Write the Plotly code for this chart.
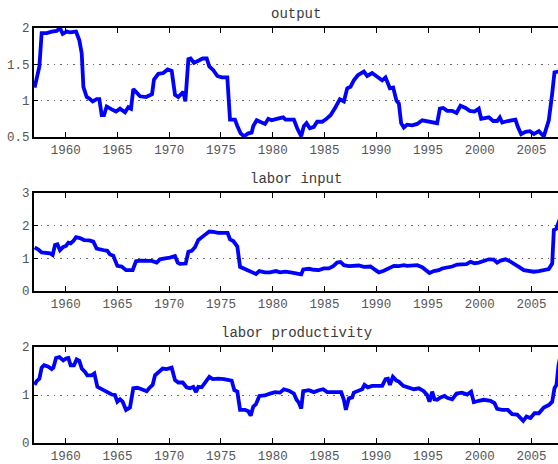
import plotly.graph_objects as go

# ---------------- data ----------------
out_x = [1957.00, 1957.46, 1957.68, 1958.17, 1958.65, 1959.13, 1959.45, 1959.71, 1960.10, 1960.42,
         1961.00, 1961.32, 1961.55, 1961.71, 1962.03, 1962.29, 1962.61, 1962.99, 1963.25, 1963.48,
         1963.70, 1963.96, 1964.44, 1964.86, 1965.25, 1965.73, 1966.05, 1966.31, 1966.53, 1966.86,
         1967.18, 1967.76, 1968.14, 1968.34, 1968.53, 1968.95, 1969.43, 1969.85, 1970.24, 1970.56,
         1970.88, 1971.20, 1971.36, 1971.56, 1971.85, 1972.07, 1972.39, 1972.81, 1973.23, 1973.62,
         1973.87, 1974.26, 1974.65, 1975.06, 1975.61, 1975.87, 1976.35, 1976.61, 1976.90, 1977.22,
         1977.64, 1977.96, 1978.12, 1978.45, 1978.93, 1979.25, 1979.57, 1979.89, 1980.38, 1981.01,
         1981.23, 1982.04, 1982.36, 1982.75, 1983.00, 1983.26, 1983.58, 1983.97, 1984.29, 1984.77,
         1985.10, 1985.58, 1986.06, 1986.48, 1986.87, 1987.19, 1987.51, 1987.83, 1988.22, 1988.54,
         1988.80, 1989.12, 1989.60, 1990.09, 1990.57, 1990.89, 1991.31, 1991.63, 1991.95, 1992.18,
         1992.40, 1992.66, 1992.98, 1993.47, 1993.95, 1994.43, 1994.91, 1995.40, 1995.88, 1996.14,
         1996.46, 1996.85, 1997.33, 1997.75, 1998.13, 1998.62, 1999.03, 1999.49, 1999.90, 2000.13,
         2000.87, 2001.29, 2001.67, 2001.93, 2002.16, 2002.70, 2003.44, 2003.67, 2003.99, 2004.41,
         2004.83, 2005.22, 2005.70, 2006.18, 2006.66, 2006.99, 2007.21, 2007.60, 2007.90]
out_y = [1.18, 1.47, 1.93, 1.93, 1.95, 1.96, 2.00, 1.92, 1.95, 1.94,
         1.95, 1.83, 1.65, 1.19, 1.05, 1.03, 0.99, 1.02, 1.02, 0.80,
         0.80, 0.92, 0.88, 0.85, 0.89, 0.84, 0.91, 0.89, 1.16, 1.11,
         1.06, 1.05, 1.08, 1.09, 1.29, 1.37, 1.38, 1.43, 1.41, 1.08,
         1.05, 1.09, 1.12, 0.99, 1.57, 1.58, 1.52, 1.55, 1.58, 1.58,
         1.47, 1.42, 1.34, 1.32, 1.32, 0.74, 0.74, 0.64, 0.55, 0.51,
         0.55, 0.56, 0.65, 0.73, 0.70, 0.68, 0.75, 0.73, 0.75, 0.77,
         0.74, 0.74, 0.62, 0.51, 0.65, 0.69, 0.62, 0.64, 0.71, 0.71,
         0.74, 0.80, 0.91, 1.02, 0.99, 1.17, 1.19, 1.28, 1.35, 1.38,
         1.40, 1.34, 1.38, 1.33, 1.28, 1.32, 1.17, 1.18, 1.00, 0.96,
         0.69, 0.63, 0.67, 0.66, 0.68, 0.73, 0.72, 0.70, 0.69, 0.89,
         0.90, 0.86, 0.86, 0.83, 0.93, 0.90, 0.86, 0.85, 0.89, 0.75,
         0.77, 0.72, 0.72, 0.77, 0.70, 0.72, 0.74, 0.64, 0.54, 0.57,
         0.58, 0.54, 0.58, 0.51, 0.73, 1.10, 1.39, 1.40, 1.41]

lab_x = [1957.00, 1957.36, 1957.68, 1958.17, 1958.49, 1958.74, 1958.97, 1959.20, 1959.45, 1959.77,
         1960.03, 1960.26, 1960.48, 1960.74, 1961.00, 1961.38, 1961.77, 1962.29, 1962.67, 1962.99,
         1963.48, 1963.80, 1964.02, 1964.28, 1964.60, 1964.99, 1965.41, 1965.83, 1966.47, 1966.79,
         1967.18, 1967.82, 1968.31, 1968.79, 1969.11, 1969.59, 1970.08, 1970.56, 1970.82, 1971.04,
         1971.59, 1971.85, 1972.17, 1972.49, 1972.81, 1973.29, 1973.87, 1974.26, 1974.74, 1975.64,
         1975.87, 1976.19, 1976.58, 1976.84, 1977.32, 1977.64, 1978.06, 1978.38, 1978.70, 1979.25,
         1979.73, 1980.31, 1980.70, 1981.23, 1981.72, 1982.20, 1982.75, 1982.94, 1983.49, 1983.97,
         1984.45, 1984.94, 1985.42, 1985.84, 1986.22, 1986.55, 1986.87, 1987.35, 1987.83, 1988.32,
         1988.80, 1989.44, 1989.93, 1990.25, 1990.73, 1991.21, 1991.70, 1992.18, 1992.66, 1992.98,
         1993.47, 1993.95, 1994.43, 1994.75, 1995.14, 1995.56, 1996.04, 1996.36, 1996.85, 1997.33,
         1997.81, 1998.29, 1998.71, 1999.10, 1999.49, 1999.90, 2000.39, 2000.87, 2001.35, 2001.67,
         2002.00, 2002.48, 2002.80, 2003.28, 2003.77, 2004.25, 2004.73, 2005.22, 2005.70, 2006.18,
         2006.66, 2006.99, 2007.15, 2007.37, 2007.60, 2007.90]
lab_y = [1.33, 1.27, 1.18, 1.17, 1.15, 1.10, 1.41, 1.43, 1.25, 1.35,
         1.38, 1.48, 1.46, 1.53, 1.65, 1.62, 1.56, 1.55, 1.51, 1.30,
         1.25, 1.24, 1.23, 1.12, 1.08, 0.77, 0.75, 0.64, 0.64, 0.91,
         0.93, 0.91, 0.92, 0.87, 0.97, 1.00, 1.02, 1.07, 0.87, 0.83,
         0.84, 1.20, 1.23, 1.34, 1.56, 1.68, 1.82, 1.81, 1.78, 1.78,
         1.58, 1.53, 1.36, 0.74, 0.67, 0.63, 0.54, 0.52, 0.61, 0.57,
         0.57, 0.61, 0.57, 0.59, 0.57, 0.54, 0.51, 0.66, 0.68, 0.65,
         0.64, 0.69, 0.69, 0.76, 0.87, 0.89, 0.79, 0.76, 0.77, 0.78,
         0.74, 0.75, 0.64, 0.57, 0.62, 0.69, 0.77, 0.76, 0.79, 0.77,
         0.79, 0.79, 0.73, 0.66, 0.55, 0.61, 0.64, 0.69, 0.71, 0.75,
         0.81, 0.83, 0.82, 0.89, 0.85, 0.87, 0.91, 0.97, 0.96, 0.87,
         0.93, 0.97, 0.93, 0.82, 0.74, 0.64, 0.61, 0.59, 0.61, 0.63,
         0.67, 0.84, 1.87, 1.90, 2.13, 2.35]

prod_x = [1957.00, 1957.20, 1957.46, 1957.68, 1957.91, 1958.33, 1958.65, 1958.81, 1959.07, 1959.39,
          1959.77, 1960.03, 1960.26, 1960.48, 1960.80, 1961.06, 1961.32, 1961.55, 1961.87, 1962.09,
          1962.51, 1962.77, 1963.06, 1963.48, 1963.96, 1964.44, 1964.76, 1964.99, 1965.25, 1965.50,
          1965.83, 1966.21, 1966.53, 1966.92, 1967.34, 1967.82, 1968.14, 1968.40, 1968.63, 1968.95,
          1969.37, 1969.75, 1970.24, 1970.56, 1970.88, 1971.30, 1971.68, 1972.01, 1972.33, 1972.59,
          1972.81, 1973.13, 1973.46, 1973.87, 1974.20, 1974.74, 1975.29, 1976.03, 1976.29, 1976.58,
          1976.84, 1977.32, 1977.64, 1977.87, 1978.12, 1978.38, 1978.70, 1979.25, 1979.73, 1980.22,
          1980.70, 1981.07, 1981.56, 1982.04, 1982.30, 1982.52, 1982.75, 1982.94, 1983.49, 1983.97,
          1984.45, 1984.87, 1985.26, 1985.90, 1986.61, 1986.87, 1987.06, 1987.35, 1987.67, 1987.83,
          1988.32, 1988.64, 1988.86, 1989.18, 1989.60, 1990.09, 1990.57, 1990.89, 1991.12, 1991.31,
          1991.60, 1991.95, 1992.18, 1992.60, 1993.14, 1993.63, 1994.11, 1994.59, 1994.91, 1995.14,
          1995.40, 1995.62, 1995.88, 1996.20, 1996.59, 1996.85, 1997.33, 1997.75, 1998.29, 1998.78,
          1999.16, 1999.42, 1999.90, 2000.39, 2001.03, 2001.42, 2001.67, 2002.16, 2002.70, 2003.12,
          2003.61, 2003.86, 2004.19, 2004.51, 2004.89, 2005.28, 2005.70, 2006.18, 2006.66, 2006.99,
          2007.21, 2007.40, 2007.60, 2007.90]
prod_y = [1.21, 1.29, 1.34, 1.57, 1.62, 1.59, 1.54, 1.57, 1.77, 1.79,
          1.72, 1.76, 1.77, 1.62, 1.62, 1.74, 1.71, 1.55, 1.48, 1.41,
          1.41, 1.45, 1.17, 1.12, 1.08, 1.01, 1.00, 0.86, 0.91, 0.86,
          0.69, 0.74, 1.14, 1.15, 1.12, 1.08, 1.16, 1.21, 1.41, 1.48,
          1.55, 1.54, 1.57, 1.31, 1.26, 1.26, 1.16, 1.14, 1.17, 1.06,
          1.17, 1.16, 1.26, 1.38, 1.33, 1.34, 1.33, 1.30, 1.10, 1.07,
          0.69, 0.69, 0.66, 0.57, 0.76, 0.81, 0.98, 0.99, 1.03, 1.06,
          1.05, 1.12, 1.09, 1.03, 0.90, 0.84, 0.72, 1.08, 1.10, 1.06,
          1.10, 1.12, 1.06, 1.06, 1.06, 0.90, 0.69, 0.93, 0.95, 1.05,
          1.08, 1.12, 1.21, 1.16, 1.19, 1.19, 1.19, 1.33, 1.34, 1.21,
          1.38, 1.30, 1.28, 1.19, 1.16, 1.12, 1.14, 1.08, 1.00, 0.86,
          1.07, 0.91, 0.90, 0.95, 0.98, 0.94, 0.91, 1.03, 1.05, 1.01,
          1.07, 0.85, 0.88, 0.90, 0.88, 0.83, 0.71, 0.69, 0.69, 0.60,
          0.59, 0.54, 0.46, 0.55, 0.52, 0.62, 0.62, 0.74, 0.79, 0.86,
          1.14, 1.21, 1.62, 1.95]

titles = ["output", "labor input", "labor productivity"]
x_ticks = [1960, 1965, 1970, 1975, 1980, 1985, 1990, 1995, 2000, 2005]
y_ticks = [[0.5, 1, 1.5, 2], [0, 1, 2, 3], [0, 1, 2]]
y_ticktext = [["0.5", "1", "1.5", "2"], ["0", "1", "2", "3"], ["0", "1", "2"]]
y_ranges = [[0.5, 2], [0, 3], [0, 2]]

# ---------------- figure ----------------
W, H = 558, 464
# panel pixel extents (top, bottom)
panels = [(28, 137), (193, 291), (347, 443)]

fig = go.Figure()
series = [(out_x, out_y), (lab_x, lab_y), (prod_x, prod_y)]
mono = "Liberation Mono, Courier New, monospace"

for i, (xs, ys) in enumerate(series):
    n = "" if i == 0 else str(i + 1)
    fig.add_trace(go.Scatter(x=xs, y=ys, mode="lines",
                             line=dict(color="#0000ff", width=3.8),
                             xaxis="x" + n, yaxis="y" + n,
                             showlegend=False, hoverinfo="skip"))
    top, bot = panels[i]
    dom = [1 - bot / H, 1 - top / H]
    fig.layout["xaxis" + n] = dict(
        domain=[0, 1], range=[1956.94, 2007.55], anchor="y" + n,
        tickvals=x_ticks, ticks="inside", ticklen=5, tickwidth=1, tickcolor="black",
        showline=True, linecolor="black", linewidth=2, mirror="ticks",
        showgrid=False, zeroline=False,
        tickfont=dict(family=mono, size=12.5, color="#555555"))
    fig.layout["yaxis" + n] = dict(
        domain=dom, range=y_ranges[i], anchor="x" + n,
        tickvals=y_ticks[i], ticktext=y_ticktext[i],
        ticks="inside", ticklen=4, tickwidth=1, tickcolor="black",
        showline=True, linecolor="black", linewidth=2, mirror=False,
        showgrid=True, gridcolor="#666666", griddash="1.5px,5px", gridwidth=1,
        zeroline=False,
        tickfont=dict(family=mono, size=12.5, color="#555555"))
    fig.add_annotation(text=titles[i], xref="paper", yref="paper",
                       x=0.5, y=dom[1], xanchor="center", yanchor="bottom",
                       yshift=4, showarrow=False,
                       font=dict(family=mono, size=14, color="#3a3a3a"))

fig.update_layout(width=W, height=H, margin=dict(l=34, r=0, t=0, b=0, autoexpand=False),
                  paper_bgcolor="white", plot_bgcolor="white")

fig.write_html("out.html", config={"displayModeBar": False},
               post_script="document.body.style.margin='0';document.body.style.overflow='hidden';")
